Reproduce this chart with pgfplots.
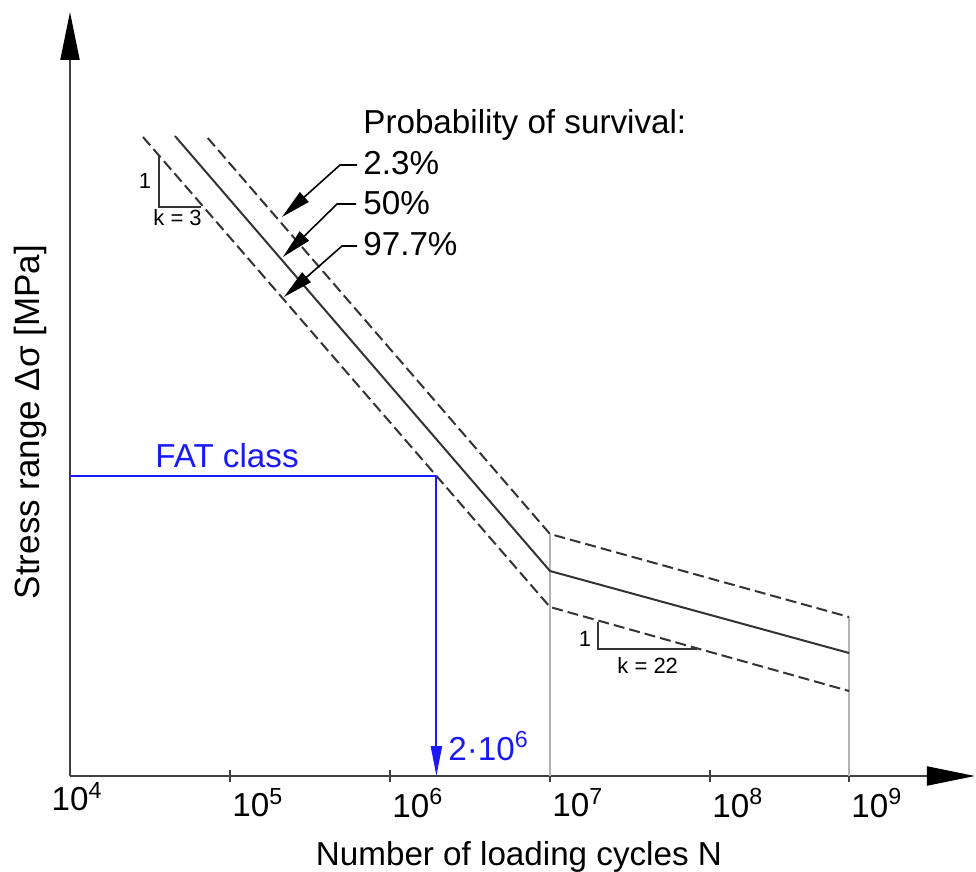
\documentclass[border=0pt]{standalone}
\usepackage{fontspec}
\setmainfont{Liberation Sans}
\usepackage{pgfplots}
\pgfplotsset{compat=1.18}
\usetikzlibrary{arrows.meta}
\definecolor{linegray}{HTML}{333333}
\definecolor{axisgray}{HTML}{404040}
\definecolor{guidegray}{HTML}{B4B4B4}
\definecolor{fatblue}{RGB}{25,25,250}

% S-N curve drawn on a decade scale: x = log10(N), y = stress range (schematic units)
\pgfplotstableread{
x      y
4.656  640
7.000  205
8.869  123
}\meancurve
\pgfplotstableread{
x      y
4.861  638
7.000  242
8.869  159
}\uppercurve
\pgfplotstableread{
x      y
4.456  639
7.000  169
8.869  85
}\lowercurve

\newcommand\bigtext{\fontsize{16.6}{19}\selectfont}
\newcommand\smalltext{\fontsize{11}{13}\selectfont}

\begin{document}
\begin{tikzpicture}
\begin{axis}[
  x=80pt, y=0.5pt,
  xmin=4, xmax=9.656, ymin=0, ymax=764,
  axis x line=bottom, axis y line=left,
  x axis line style={axisgray, line width=1pt, -{Triangle[length=24pt,width=9.5pt,color=black]}},
  y axis line style={axisgray, line width=1pt, -{Triangle[length=24pt,width=9.5pt,color=black]}},
  ytick=\empty,
  xtick={5,6,7,8,8.869},
  xticklabels={10\textsuperscript{5},10\textsuperscript{6},10\textsuperscript{7},10\textsuperscript{8},10\textsuperscript{9}},
  tick align=center, major tick length=6pt,
  tick style={axisgray, line width=0.7pt},
  xticklabel style={anchor=north west, inner sep=0pt, xshift=1pt, yshift=-3pt, font=\bigtext},
  extra x ticks={4},
  extra x tick labels={10\textsuperscript{4}},
  extra x tick style={major tick length=0pt, xticklabel style={anchor=north, xshift=2.5pt}},
  clip=false,
]
% fixes the picture's outer frame
\path (axis cs:3.5625,-95) rectangle (axis cs:9.6625,776);

% guide lines at the knee point and at 10^9
\draw[guidegray, line width=0.9pt] (axis cs:7,242) -- (axis cs:7,0);
\draw[guidegray, line width=0.9pt] (axis cs:8.869,159) -- (axis cs:8.869,0);

\addplot[linegray, line width=1pt] table[x=x,y=y] {\meancurve};
\addplot[linegray, line width=1pt, dash pattern=on 5.5pt off 2.5pt] table[x=x,y=y] {\uppercurve};
\addplot[linegray, line width=1pt, dash pattern=on 5.5pt off 2.5pt] table[x=x,y=y] {\lowercurve};

% FAT class at 2e6 cycles
\draw[fatblue, line width=1pt] (axis cs:4,300) -- (axis cs:6.29,300);
\draw[fatblue, line width=1pt, -{Triangle[length=15pt,width=5.5pt]}] (axis cs:6.29,300) -- (axis cs:6.29,0);
\node[fatblue, anchor=base west, inner sep=0pt, font=\bigtext] at (axis cs:4.531,309) {FAT class};
\node[fatblue, anchor=base west, inner sep=0pt, font=\bigtext] at (axis cs:6.3625,16) {2·10\textsuperscript{6}};

% slope triangles
\draw[linegray, line width=0.8pt] (axis cs:4.556,621) -- (axis cs:4.556,569) -- (axis cs:4.819,569);
\node[inner sep=0pt, font=\smalltext] at (axis cs:4.469,595) {1};
\node[anchor=base west, inner sep=0pt, font=\smalltext] at (axis cs:4.519,551) {k = 3};
\draw[linegray, line width=0.8pt] (axis cs:7.3,154) -- (axis cs:7.3,127) -- (axis cs:7.919,127);
\node[inner sep=0pt, font=\smalltext] at (axis cs:7.219,137) {1};
\node[anchor=base west, inner sep=0pt, font=\smalltext] at (axis cs:7.419,103) {k = 22};

% probability of survival annotations
\node[anchor=base west, inner sep=0pt, font=\bigtext] at (axis cs:5.831,643) {Probability of survival:};
\node[anchor=base west, inner sep=0pt, font=\bigtext] at (axis cs:5.831,602) {2.3\%};
\node[anchor=base west, inner sep=0pt, font=\bigtext] at (axis cs:5.831,561) {50\%};
\node[anchor=base west, inner sep=0pt, font=\bigtext] at (axis cs:5.831,521) {97.7\%};
\draw[black, line width=0.8pt, -{Triangle[length=15pt,width=6.5pt]}] (axis cs:5.794,611) -- (axis cs:5.6875,611) -- (axis cs:5.325,559);
\draw[black, line width=0.8pt, -{Triangle[length=15pt,width=6.5pt]}] (axis cs:5.7875,572) -- (axis cs:5.669,572) -- (axis cs:5.331,519);
\draw[black, line width=0.8pt, -{Triangle[length=15pt,width=6.5pt]}] (axis cs:5.794,530) -- (axis cs:5.7,530) -- (axis cs:5.3375,479);

% axis titles
\node[rotate=90, inner sep=0pt, font=\fontsize{17.5}{20}\selectfont] at (axis cs:3.75,354) {Stress range Δσ [MPa]};
\node[anchor=base, inner sep=0pt, font=\bigtext] at (axis cs:6.806,-89) {Number of loading cycles N};
\end{axis}
\end{tikzpicture}
\end{document}
